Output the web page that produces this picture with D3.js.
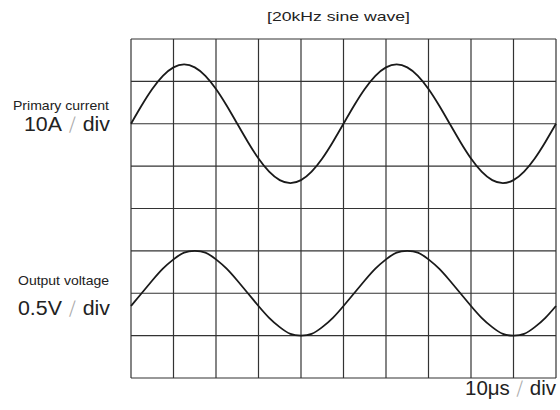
<!DOCTYPE html>
<html>
<head>
<meta charset="utf-8">
<script src="https://cdn.jsdelivr.net/npm/d3@7"></script>
<style>
html,body{margin:0;padding:0;background:#fff;}
svg{display:block;}
text{font-family:"Liberation Sans",Arial,sans-serif;fill:#222;}
</style>
</head>
<body>
<svg id="chart" width="560" height="410"></svg>
<script>
// time axis in divisions (10 µs/div), sampled every 0.25 div
const timeDiv = d3.range(0, 10.001, 0.25);
// Primary current (A), 10 A/div
const primaryCurrent = [0, 4.3, 8.2, 11.3, 13.3, 14, 13.3, 11.3, 8.2, 4.3,
  0, -4.3, -8.2, -11.3, -13.3, -14, -13.3, -11.3, -8.2, -4.3,
  0, 4.3, 8.2, 11.3, 13.3, 14, 13.3, 11.3, 8.2, 4.3,
  0, -4.3, -8.2, -11.3, -13.3, -14, -13.3, -11.3, -8.2, -4.3, 0];
// Output voltage (V), 0.5 V/div
const outputVoltage = [-0.15, 0, 0.15, 0.29, 0.40, 0.48, 0.50, 0.48, 0.40, 0.29,
  0.15, 0, -0.15, -0.29, -0.40, -0.48, -0.50, -0.48, -0.40, -0.29,
  -0.15, 0, 0.15, 0.29, 0.40, 0.48, 0.50, 0.48, 0.40, 0.29,
  0.15, 0, -0.15, -0.29, -0.40, -0.48, -0.50, -0.48, -0.40, -0.29, -0.15];
const gridCols = d3.range(0, 11);
const gridRows = d3.range(0, 9);
const titleText = "[20kHz sine wave]";
const labelCurrent = ["Primary current", "10A", "div"];
const labelVoltage = ["Output voltage", "0.5V", "div"];
const labelTime = ["10\u03bcs", "div"];

const svg = d3.select("#chart");
const x = d3.scaleLinear().domain([0, 10]).range([131, 556]);
const yGrid = d3.scaleLinear().domain([0, 8]).range([39, 378]);
// top channel: center at row 2 -> +20A top, -60A bottom
const yCur = d3.scaleLinear().domain([20, -60]).range([39, 378]);
// bottom channel: center at row 6 -> +3V top, -1V bottom
const yVolt = d3.scaleLinear().domain([3, -1]).range([39, 378]);

const g = svg.append("g");
g.selectAll("line.v").data(gridCols).join("line")
  .attr("x1", d => x(d)).attr("x2", d => x(d))
  .attr("y1", yGrid(0)).attr("y2", yGrid(8))
  .attr("stroke", "#333").attr("stroke-width", 1.2);
g.selectAll("line.h").data(gridRows).join("line")
  .attr("y1", d => yGrid(d)).attr("y2", d => yGrid(d))
  .attr("x1", x(0)).attr("x2", x(10))
  .attr("stroke", "#333").attr("stroke-width", 1.2);

const lineCur = d3.line().x((d, i) => x(timeDiv[i])).y(d => yCur(d)).curve(d3.curveNatural);
const lineVolt = d3.line().x((d, i) => x(timeDiv[i])).y(d => yVolt(d)).curve(d3.curveNatural);
svg.append("path").attr("d", lineCur(primaryCurrent))
  .attr("fill", "none").attr("stroke", "#1a1a1a").attr("stroke-width", 1.8);
svg.append("path").attr("d", lineVolt(outputVoltage))
  .attr("fill", "none").attr("stroke", "#1a1a1a").attr("stroke-width", 1.8);

svg.append("text").attr("x", 338.5).attr("y", 21).attr("text-anchor", "middle")
  .attr("textLength", 143).attr("lengthAdjust", "spacingAndGlyphs")
  .style("font-size", "13.5px").text(titleText);

function bigLabel(xr, yb, parts, len) {
  const t = svg.append("text").attr("x", xr).attr("y", yb).attr("text-anchor", "end")
    .attr("textLength", len).attr("lengthAdjust", "spacingAndGlyphs")
    .style("font-size", "20px");
  t.append("tspan").text(parts[0]);
  t.append("tspan").style("fill", "#aaa").style("font-family", "'DejaVu Sans'")
    .style("font-weight", "200").text("\u00a0\u2215\u00a0");
  t.append("tspan").text(parts[1]);
}
function label(lines, yTop, yBig, len) {
  svg.append("text").attr("x", 109).attr("y", yTop).attr("text-anchor", "end")
    .attr("textLength", len).attr("lengthAdjust", "spacingAndGlyphs")
    .style("font-size", "13px").text(lines[0]);
  bigLabel(110, yBig, [lines[1], lines[2]], lines === labelCurrent ? 86 : 92);
}
label(labelCurrent, 109.5, 131, 96);
label(labelVoltage, 285, 315, 91);
bigLabel(556, 395, labelTime, 91);
</script>
</body>
</html>
